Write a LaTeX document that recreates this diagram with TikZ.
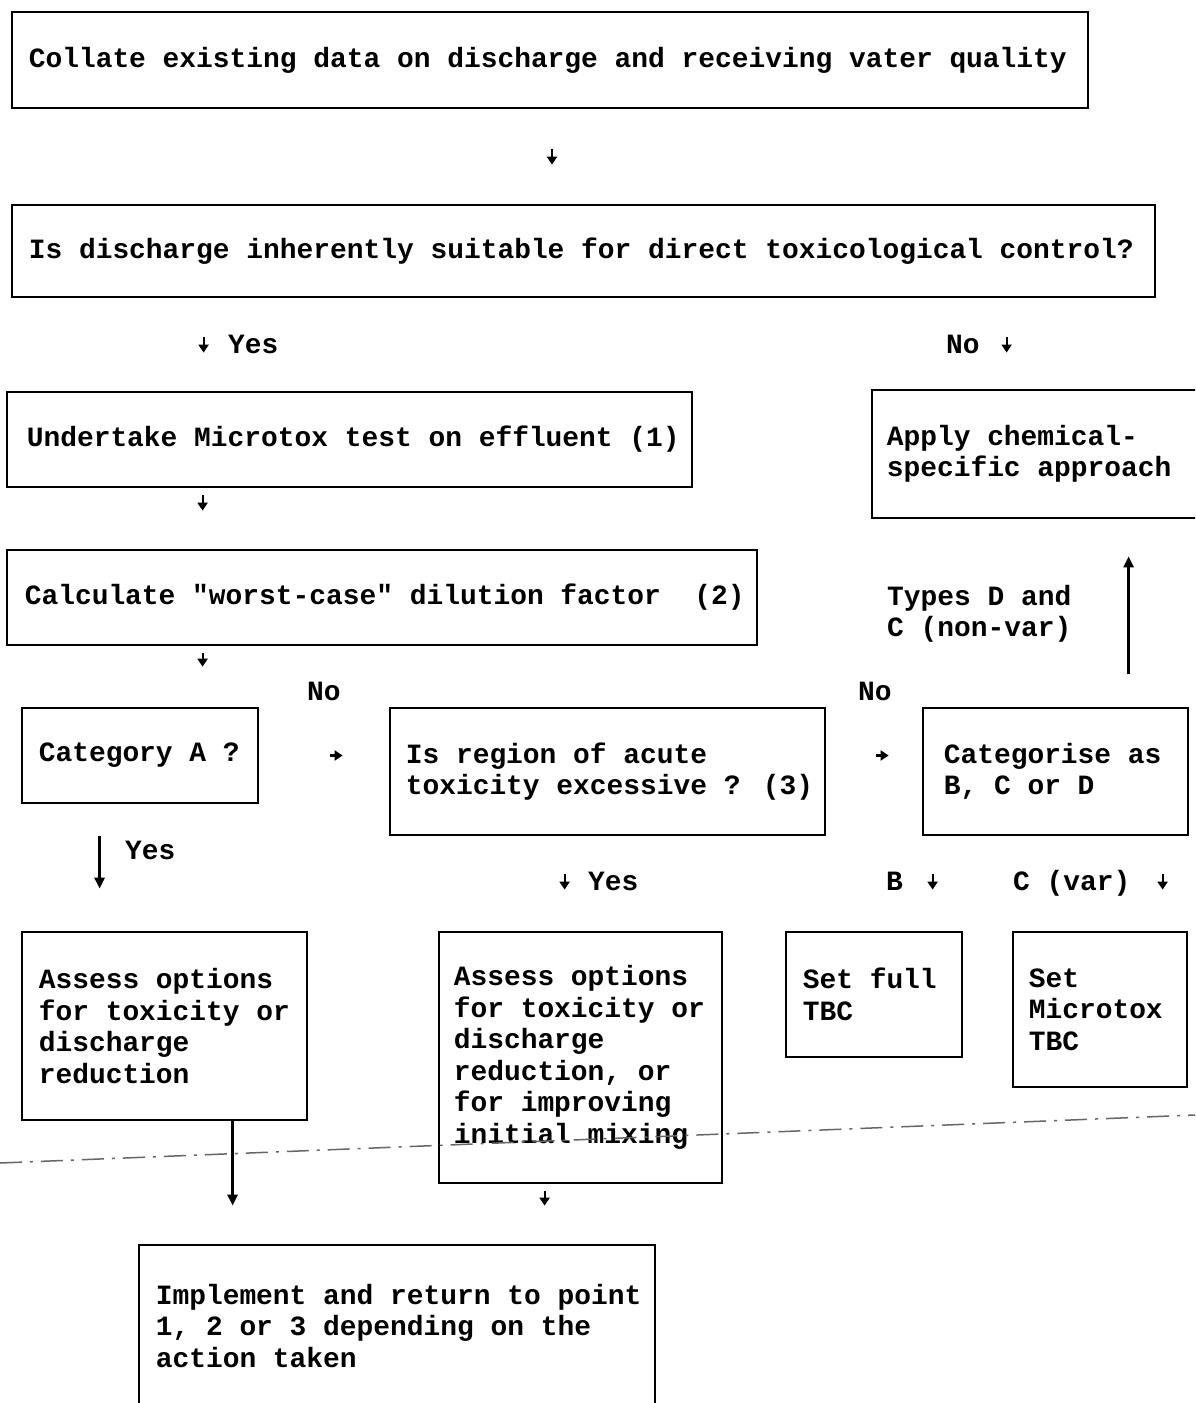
\documentclass[tikz,border=0pt]{standalone}
\usepackage{fontspec}
\newfontfamily\twfont{Liberation Mono}
\usetikzlibrary{arrows.meta}
\begin{document}
\begin{tikzpicture}[x=1pt,y=-1pt,
  box/.style={draw=black, line width=2.8pt, inner sep=0pt},
  txt/.style={font=\twfont\bfseries\fontsize{27.9pt}{31.5pt}\selectfont, align=left, inner sep=0pt},
  sarrow/.style={line width=2.2pt, -{Triangle[length=8pt,width=10pt]}},
  larrow/.style={line width=2.8pt, -{Triangle[length=11pt,width=10pt]}},
  scan/.style={draw=black!60, line width=1.5pt, dash pattern=on 22pt off 8pt on 3pt off 8pt}]
\path[use as bounding box] (0,0) rectangle (1195,1403);
\fill[white] (0,0) rectangle (1195,1403);
\clip (0,0) rectangle (1195,1403);

% boxes
\node[box, minimum width=1076pt, minimum height=96pt]  (b1) at (550,60) {};
\node[box, minimum width=1143pt, minimum height=92pt]  (b2) at (583.5,251) {};
\node[box, minimum width=685pt,  minimum height=95pt]  (b3) at (349.5,439.5) {};
\node[box, minimum width=328pt,  minimum height=128pt] (bP) at (1036,454) {};
\node[box, minimum width=750pt,  minimum height=95pt]  (b4) at (382,597.5) {};
\node[box, minimum width=236pt,  minimum height=95pt]  (bA) at (140,755.5) {};
\node[box, minimum width=435pt,  minimum height=127pt] (bR) at (607.5,771.5) {};
\node[box, minimum width=265pt,  minimum height=127pt] (bC) at (1055.5,771.5) {};
\node[box, minimum width=285pt,  minimum height=188pt] (bL) at (164.5,1026) {};
\node[box, minimum width=283pt,  minimum height=251pt] (bM) at (580.5,1057.5) {};
\node[box, minimum width=176pt,  minimum height=125pt] (bF) at (874,994.5) {};
\node[box, minimum width=174pt,  minimum height=155pt] (bT) at (1100,1009.5) {};
\node[box, minimum width=516pt,  minimum height=162pt] (bI) at (397,1326) {};

% box texts
\node[txt, anchor=west] (t1) at ([xshift=18pt]b1.west) {Collate existing data on discharge and receiving vater quality};
\node[txt, anchor=west] (t2) at ([xshift=18pt]b2.west) {Is discharge inherently suitable for direct toxicological control?};
\node[txt, anchor=west] (t3) at ([xshift=21pt]b3.west) {Undertake Microtox test on effluent (1)};
\node[txt, anchor=west] (tP) at ([xshift=16pt]bP.west) {Apply chemical-\\specific approach};
\node[txt, anchor=west] (t4) at ([xshift=19pt]b4.west) {Calculate "worst-case" dilution factor~~(2)};
\node[txt, anchor=west] (tA) at ([xshift=18pt]bA.west) {Category A ?};
\node[txt, anchor=west] (tR) at ([xshift=17pt]bR.west) {Is region of acute\\toxicity excessive ? (3)};
\node[txt, anchor=west] (tC) at ([xshift=22pt]bC.west) {Categorise as\\B, C or D};
\node[txt, anchor=west] (tL) at ([xshift=18pt]bL.west) {Assess options\\for toxicity or\\discharge\\reduction};
\node[txt, anchor=west] (tM) at ([xshift=16pt]bM.west) {Assess options\\for toxicity or\\discharge\\reduction, or\\for improving\\initial mixing};
\node[txt, anchor=west] (tF) at ([xshift=18pt]bF.west) {Set full\\TBC};
\node[txt, anchor=west] (tT) at ([xshift=17pt]bT.west) {Set\\Microtox\\TBC};
\node[txt, anchor=west] (tI) at ([xshift=18pt]bI.west) {Implement and return to point\\1, 2 or 3 depending on the\\action taken};

% labels
\node[txt, anchor=base west] (lY1) at (228,353) {Yes};
\node[txt, anchor=base west] (lN1) at (946,353) {No};
\node[txt, anchor=base west] (lN2) at (307,700) {No};
\node[txt, anchor=base west] (lN3) at (858,700) {No};
\node[txt, anchor=west] (lT) at (887,614) {Types D and\\C (non-var)};
\node[txt, anchor=base west] (lY2) at (125,859) {Yes};
\node[txt, anchor=base west] (lY3) at (588,890) {Yes};
\node[txt, anchor=base west] (lB) at (886,890) {B};
\node[txt, anchor=base west] (lCv) at (1013,890) {C (var)};

% connector start points
\coordinate (c1) at ([xshift=2pt]b1.south);
\coordinate (c2) at ([xshift=193pt]b2.south west);
\coordinate (c3) at ([xshift=996pt]b2.south west);
\coordinate (c4) at ([xshift=197pt]b3.south west);
\coordinate (c5) at ([xshift=197pt]b4.south west);
\coordinate (c8) at ([xshift=207pt]bC.north west);
\coordinate (c9) at ([xshift=79pt]bA.south west);
\coordinate (c10) at ([xshift=176pt]bR.south west);
\coordinate (c11) at ([xshift=11pt]bC.south west);
\coordinate (c12) at ([xshift=241pt]bC.south west);
\coordinate (c13) at ([xshift=212pt]bL.south west);
\coordinate (c14) at ([xshift=107pt]bM.south west);

% connectors
\draw[sarrow, shorten <=40pt, shorten >=39pt] (c1) -- (c1 |- b2.north);
\draw[sarrow, shorten <=39pt, shorten >=38pt] (c2) -- (c2 |- b3.north);
\draw[sarrow, shorten <=39pt, shorten >=36pt] (c3) -- (c3 |- bP.north);
\draw[sarrow, shorten <=7pt, shorten >=38pt] (c4) -- (c4 |- b4.north);
\draw[sarrow, shorten <=7pt, shorten >=40pt] (c5) -- (c5 |- bA.north);
\draw[sarrow, shorten <=71pt, shorten >=46pt] (bA.east) -- (bA.east -| bR.west);
\draw[sarrow, shorten <=50pt, shorten >=33pt] (bA.east -| bR.east) -- (bA.east -| bC.west);
\draw[larrow, shorten <=33pt, shorten >=37pt] (c8) -- (c8 |- bP.south);
\draw[larrow, shorten <=32pt, shorten >=42pt] (c9) -- (c9 |- bL.north);
\draw[sarrow, shorten <=38pt, shorten >=41pt] (c10) -- (c10 |- bM.north);
\draw[sarrow, shorten <=38pt, shorten >=41pt] (c11) -- (c11 |- bF.north);
\draw[sarrow, shorten <=38pt, shorten >=41pt] (c12) -- (c12 |- bT.north);
\draw[larrow, shorten >=38pt] (c13) -- (c13 |- bI.north);
\draw[sarrow, shorten <=7pt, shorten >=38pt] (c14) -- (c14 |- bI.north);

% scan line
\draw[scan] (0,1163) -- (1195,1115);
\end{tikzpicture}
\end{document}
